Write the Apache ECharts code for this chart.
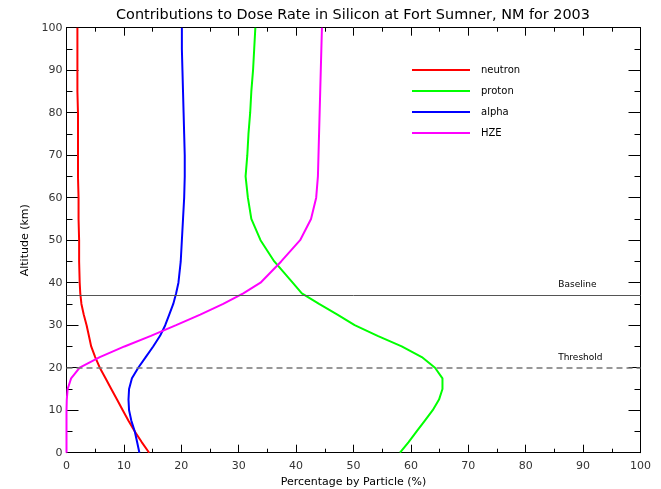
<!DOCTYPE html>
<html>
<head>
<meta charset="utf-8">
<script src="https://cdn.jsdelivr.net/npm/echarts@6/dist/echarts.min.js"></script>
<style>
  html, body { margin: 0; padding: 0; background: #fff; }
  #chart { width: 661px; height: 489px; }
</style>
</head>
<body>
<div id="chart"></div>
<script>
// Altitude grid (km) shared by all particle profiles
const altitudes = [0, 2.5, 5, 7.5, 10, 12.5, 15, 17.5, 20, 22.5, 25, 27.5, 30, 32.5, 35, 37.5, 40,
                   45, 50, 55, 60, 65, 70, 75, 80, 85, 90, 95, 100];

// Percentage of dose rate by particle at each altitude
const neutron = [14.4, 13.1, 11.9, 10.8, 9.8, 8.8, 7.8, 6.8, 5.8, 5.0, 4.3, 3.9, 3.5, 3.0, 2.6, 2.4, 2.3,
                 2.2, 2.2, 2.1, 2.1, 2.0, 2.0, 2.0, 2.0, 1.9, 1.9, 1.9, 1.9];
const proton = [58.1, 59.6, 61.0, 62.4, 63.8, 64.9, 65.5, 65.5, 64.2, 61.9, 58.4, 54.2, 50.2, 47.2, 44.0, 41.0, 39.4,
                36.2, 33.8, 32.2, 31.6, 31.2, 31.5, 31.7, 32.0, 32.2, 32.5, 32.7, 32.9];
const alpha = [12.7, 12.3, 11.9, 11.3, 10.9, 10.8, 10.9, 11.4, 12.5, 13.8, 15.1, 16.3, 17.2, 17.9, 18.6, 19.1, 19.5,
               19.9, 20.1, 20.3, 20.5, 20.6, 20.6, 20.5, 20.4, 20.3, 20.2, 20.1, 20.1];
const hze = [0, 0, 0, 0, 0, 0.05, 0.2, 0.8, 2.3, 5.8, 10.1, 14.7, 19.1, 23.3, 27.3, 30.8, 33.8,
             37.4, 40.7, 42.6, 43.5, 43.8, 43.9, 44.0, 44.1, 44.2, 44.3, 44.4, 44.5];

const seriesNames = ['neutron', 'proton', 'alpha', 'HZE'];
const seriesColors = ['#ff0000', '#00ff00', '#0000ff', '#ff00ff'];
const seriesValues = [neutron, proton, alpha, hze];

// Reference altitudes (km)
const baselineAlt = 37;
const thresholdAlt = 20;

const chart = echarts.init(document.getElementById('chart'), null, { renderer: 'canvas' });

const labelFont = { fontFamily: 'DejaVu Sans', fontSize: 11, color: '#333' };

function xAxisDef(pos, showLabels) {
  return {
    type: 'value', position: pos, min: 0, max: 100, interval: 10,
    axisLine: { show: true, onZero: false, lineStyle: { color: '#000', width: 1 } },
    axisTick: { show: true, inside: true, length: 8, lineStyle: { color: '#000' } },
    minorTick: { show: true, splitNumber: 2, length: 4, lineStyle: { color: '#000' } },
    splitLine: { show: false },
    axisLabel: Object.assign({ show: showLabels, margin: 8 }, labelFont),
    name: showLabels ? 'Percentage by Particle (%)' : '',
    nameLocation: 'middle', nameGap: 22,
    nameTextStyle: { fontFamily: 'DejaVu Sans', fontSize: 11, color: '#000' }
  };
}
function yAxisDef(pos, showLabels) {
  return {
    type: 'value', position: pos, min: 0, max: 100, interval: 10,
    axisLine: { show: true, onZero: false, lineStyle: { color: '#000', width: 1 } },
    axisTick: { show: true, inside: true, length: 12, lineStyle: { color: '#000' } },
    minorTick: { show: true, splitNumber: 2, length: 6, lineStyle: { color: '#000' } },
    splitLine: { show: false },
    axisLabel: Object.assign({ show: showLabels, margin: 4 }, labelFont),
    name: showLabels ? 'Altitude (km)' : '',
    nameLocation: 'middle', nameGap: 35, nameRotate: 90,
    nameTextStyle: { fontFamily: 'DejaVu Sans', fontSize: 11, color: '#000' }
  };
}

const series = seriesNames.map((name, i) => ({
  name: name,
  type: 'line',
  xAxisIndex: 0, yAxisIndex: 0,
  data: altitudes.map((a, k) => [seriesValues[i][k], a]),
  showSymbol: false, symbol: 'none',
  lineStyle: { color: seriesColors[i], width: 2 },
  itemStyle: { color: seriesColors[i] },
  animation: false
}));

// Horizontal reference lines
series.push({
  name: 'refs', type: 'line', data: [], xAxisIndex: 0, yAxisIndex: 0,
  markLine: {
    silent: true, symbol: 'none', animation: false,
    label: {
      show: true, position: 'insideEndTop', distance: 6,
      fontFamily: 'DejaVu Sans', fontSize: 9, color: '#000'
    },
    data: [
      { yAxis: baselineAlt, name: 'Baseline',
        label: { formatter: 'Baseline', padding: [0, 38, 0, 0] },
        lineStyle: { color: '#555', width: 1, type: 'solid' } },
      { yAxis: thresholdAlt, name: 'Threshold',
        label: { formatter: 'Threshold', padding: [0, 32, 0, 0] },
        lineStyle: { color: '#777', width: 1.5, type: [6, 4] } }
    ]
  }
});

chart.setOption({
  animation: false,
  backgroundColor: '#fff',
  title: {
    text: 'Contributions to Dose Rate in Silicon at Fort Sumner, NM for 2003',
    left: 353, top: 8, textAlign: 'center', padding: 0,
    textStyle: { fontFamily: 'DejaVu Sans', fontSize: 14.4, fontWeight: 'normal', color: '#000' }
  },
  legend: {
    data: seriesNames, orient: 'vertical', left: 412, top: 65, padding: 0,
    itemWidth: 58, itemHeight: 2, itemGap: 11, icon: 'rect',
    textStyle: { fontFamily: 'DejaVu Sans', fontSize: 10, color: '#000', padding: [0, 0, 0, 6] }
  },
  grid: { left: 66.5, right: 20.5, top: 27.7, bottom: 36.3, containLabel: false, outerBoundsMode: 'none' },
  xAxis: [xAxisDef('bottom', true), xAxisDef('top', false)],
  yAxis: [yAxisDef('left', true), yAxisDef('right', false)],
  series: series
});
</script>
</body>
</html>
